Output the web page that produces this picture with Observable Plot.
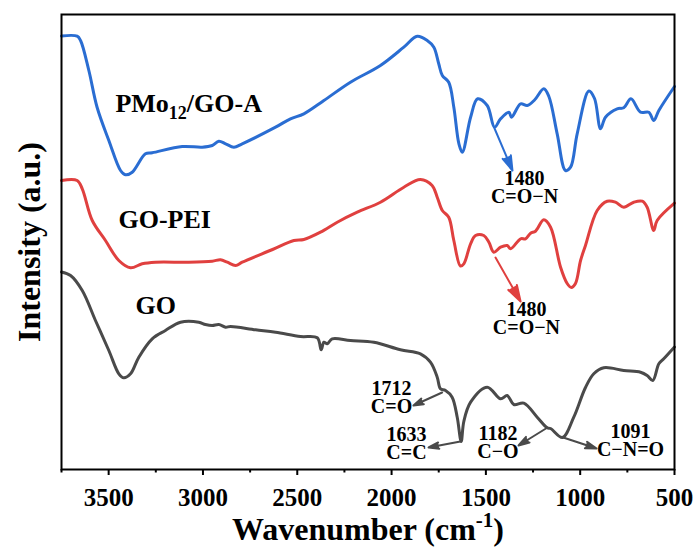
<!DOCTYPE html>
<html><head><meta charset="utf-8">
<script src="https://cdn.jsdelivr.net/npm/d3@7"></script>
<script src="https://cdn.jsdelivr.net/npm/@observablehq/plot@0.6"></script>
<style>body{margin:0;background:#fff}</style>
</head><body><div id="chart"></div>
<script>
// ---- data (intensity in arbitrary units) ----
const pmoWave = [3750,3667,3649,3605,3561,3499,3437,3411,3375,3305,3269,3110,3004,2951,2916,2880,2836,2792,2615,2536,2465,2359,2218,2059,1935,1864,1811,1776,1750,1731,1697,1670,1643,1625,1581,1544,1493,1454,1422,1378,1364,1316,1281,1242,1193,1166,1122,1078,1051,1016,954,924,892,866,804,769,731,680,636,610,583,500];
const pmoInt  = [433.5,433.3,429,399,362,329,299,294.7,297.3,315.7,316.7,323,322.3,324,328.3,325.7,322.3,325.7,342.3,350.7,355.7,369,387.3,404,422.3,433.3,429,422.3,405.7,394,387.3,362.3,325.7,317.3,352.3,370.7,364,342.3,350.7,357.3,352.3,365.7,364,369.5,380.7,373,335.7,299,302.3,335.7,378.5,371,340.7,352.3,360.7,361.7,370.7,357.3,357.3,349,359,383];

const peiWave = [3750,3667,3640,3587,3517,3446,3384,3322,3252,3075,2951,2907,2871,2827,2792,2631,2518,2465,2377,2288,2182,2059,1935,1847,1785,1758,1731,1697,1670,1635,1617,1581,1555,1511,1484,1458,1422,1387,1369,1316,1290,1263,1237,1193,1157,1104,1069,1047,1025,998,972,910,857,813,769,716,671,645,610,592,500];
const peiInt  = [289,289,280.7,249,229,209,201.7,205.7,207.3,207.3,208.3,209.7,207.3,204,207.3,220,229,230,237.3,247.3,257.3,267.3,282.3,290,284,272.3,259,252.3,229,203.5,205.7,225.7,234,234,227.3,217.3,222.3,224,220.7,230.7,230.7,236.3,238.3,249.7,242.3,202.3,186,182,186,209,224,259,268.3,267.3,262.3,267.3,268.3,262.3,239,249,266.3];

const goWave = [3750,3702,3640,3570,3499,3446,3420,3384,3340,3269,3199,3119,3022,2987,2951,2916,2880,2854,2721,2615,2483,2394,2373,2359,2341,2315,2218,2094,1953,1847,1794,1758,1741,1714,1679,1652,1631,1617,1581,1493,1422,1387,1352,1299,1228,1175,1157,1094,1034,972,928,875,769,680,645,615,583,557,500];
const goInt  = [197.5,194,179,149,119,95.7,91.7,95.7,112.3,130.7,139,147.3,147.3,145,144,145,142.3,143,139.7,137.3,133,131.7,119.7,127.3,125.7,130.7,129,127.3,119.7,115.7,107.3,92.3,80.7,79,72.3,52.3,28,48,67.3,82.3,70.7,74,65,66.3,52.3,41.7,41,32,52.3,82,95.7,101.7,99,97.3,94,89,105.7,110.7,122.5];

const seriesNames = ["PMo12/GO-A", "GO-PEI", "GO"];
const seriesColors = ["#2a6dd2", "#e0403f", "#4a4a4a"];
const labelWave = [3464, 3448, 3358];
const labelInt = [376, 260, 174];

const annoText = ["1480\nC=O\u2212N", "1480\nC=O\u2212N", "1712\nC=O", "1633\nC=C", "1182\nC\u2212O", "1091\nC\u2212N=O"];
const annoWave = [1295, 1285, 2000, 1921, 1436, 733];
const annoInt  = [297, 166, 87, 41, 42, 44];

const arrowSeries   = [0, 1, 2, 2, 2, 2];
const arrowFromWave = [1454, 1449, 1732, 1635, 1173, 1090];
const arrowFromInt  = [341, 212, 77, 28, 42, 32];
const arrowToWave   = [1359, 1316, 1884, 1804, 1327, 913];
const arrowToInt    = [299, 168, 64, 22, 24, 21];

const majorTicks = [3500, 3000, 2500, 2000, 1500, 1000, 500];
const minorTicks = [3750, 3250, 2750, 2250, 1750, 1250, 750];

// ---- build tables ----
const mk = (w, v, s) => w.map((x, i) => ({wave: x, inten: v[i], series: s}));
const spectra = [
  ...mk(pmoWave, pmoInt, seriesNames[0]),
  ...mk(peiWave, peiInt, seriesNames[1]),
  ...mk(goWave, goInt, seriesNames[2])
];
const labels = seriesNames.map((n, i) => ({name: n, wave: labelWave[i], inten: labelInt[i]}));
const annos = annoText.map((t, i) => ({t, wave: annoWave[i], inten: annoInt[i]}));
const arrows = arrowSeries.map((s, i) => ({s, x1: arrowFromWave[i], y1: arrowFromInt[i], x2: arrowToWave[i], y2: arrowToInt[i]}));

const serif = "'Liberation Serif', 'Times New Roman', serif";

const chart = Plot.plot({
  width: 697,
  height: 547,
  marginLeft: 61,
  marginRight: 23,
  marginTop: 14,
  marginBottom: 78,
  style: {fontFamily: serif, fontWeight: "bold", background: "white", color: "black"},
  x: {domain: [3750, 500]},
  y: {domain: [0, 455], axis: null},
  marks: [
    ...seriesNames.map((n, i) => Plot.line(spectra.filter(d => d.series === n), {
      x: "wave", y: "inten", stroke: seriesColors[i], strokeWidth: 3, curve: "catmull-rom"
    })),
    ...seriesColors.map((c, k) => Plot.arrow(arrows.filter(d => d.s === k), {
      x1: "x1", y1: "y1", x2: "x2", y2: "y2", stroke: c, strokeWidth: 2, headLength: 13, headAngle: 34
    })),
    Plot.text(labels, {x: "wave", y: "inten", text: "name", textAnchor: "start", lineAnchor: "top", fontSize: 26, fontWeight: "bold", fill: "black"}),
    Plot.text(annos, {x: "wave", y: "inten", text: "t", textAnchor: "middle", lineAnchor: "top", fontSize: 20, lineHeight: 0.9, fontWeight: "bold", fill: "black"}),
    Plot.frame({stroke: "black", strokeWidth: 2}),
    Plot.axisX({ticks: majorTicks, tickSize: 6, tickPadding: 13, tickFormat: d => String(d), fontSize: 25, fontWeight: "bold", strokeWidth: 2, label: null}),
    Plot.axisX({ticks: minorTicks, tickSize: 3.5, tickFormat: () => "", strokeWidth: 2, label: null}),
    Plot.text(["Wavenumber (cm-1)"], {frameAnchor: "bottom", lineAnchor: "top", dy: 48, fontSize: 32, fontWeight: "bold", fill: "black"}),
    Plot.text(["Intensity (a.u.)"], {frameAnchor: "left", dx: -32, rotate: -90, textAnchor: "middle", lineAnchor: "middle", fontSize: 32, fontWeight: "bold", fill: "black"})
  ]
});

// filled arrow heads
chart.querySelectorAll('g[aria-label="arrow"]').forEach(g => {
  const s = g.getAttribute("stroke");
  g.setAttribute("fill", s);
  g.querySelectorAll("path").forEach(p => { if (p.getAttribute("stroke")) p.setAttribute("fill", p.getAttribute("stroke")); });
  g.setAttribute("stroke-linejoin", "miter");
});
// subscripts / superscripts
chart.querySelectorAll("text").forEach(t => {
  if (t.textContent === "PMo12/GO-A") {
    t.innerHTML = 'PMo<tspan dy="7" font-size="18">12</tspan><tspan dy="-7">/GO-A</tspan>';
  } else if (t.textContent === "Wavenumber (cm-1)") {
    t.innerHTML = 'Wavenumber (cm<tspan dy="-13" font-size="21">-1</tspan><tspan dy="13">)</tspan>';
  }
});
document.getElementById("chart").append(chart);
</script>
</body></html>
